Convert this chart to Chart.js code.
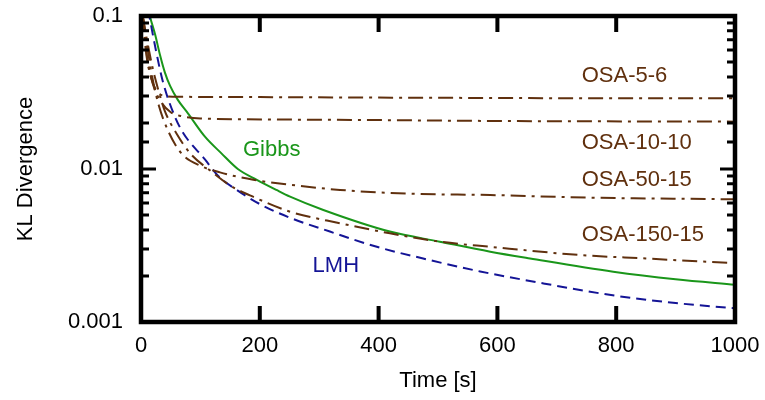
<!DOCTYPE html>
<html>
<head>
<meta charset="utf-8">
<script src="https://cdn.jsdelivr.net/npm/chart.js@4"></script>
<style>
  body { margin: 0; background: #fff; }
  canvas { display: block; }
</style>
</head>
<body>
<canvas id="klChart" width="765" height="400"></canvas>
<script>
// time [s] and KL divergence
const gibbsT = [10, 15, 24, 32, 40, 49, 62, 79, 108, 135, 163, 195, 228, 251, 307, 419, 503, 588, 655, 795, 900, 1000];
const gibbsV = [0.125, 0.1, 0.0751, 0.0556, 0.043, 0.0349, 0.0283, 0.0231, 0.0162, 0.0127, 0.0100, 0.0085, 0.0073, 0.0066, 0.0054, 0.0039, 0.00335, 0.00288, 0.0026, 0.00213, 0.0019, 0.00175];

const lmhT = [12, 25, 37, 57, 71, 108, 130, 161, 200, 251, 318, 397, 475, 571, 680, 801, 900, 1000];
const lmhV = [0.11, 0.06, 0.037, 0.022, 0.0172, 0.0115, 0.009, 0.0073, 0.0059, 0.0048, 0.0039, 0.0031, 0.0026, 0.00214, 0.00178, 0.00148, 0.00133, 0.00123];

const osa5T = [3, 8, 15, 25, 40, 55, 200, 500, 800, 1000];
const osa5V = [0.1, 0.06, 0.042, 0.033, 0.030, 0.0297, 0.0295, 0.0292, 0.029, 0.029];

const osa10T = [3, 10, 20, 35, 50, 67, 100, 300, 600, 1000];
const osa10V = [0.1, 0.055, 0.036, 0.027, 0.0235, 0.0222, 0.0214, 0.021, 0.0206, 0.0204];

const osa50T = [3, 10, 20, 30, 45, 67, 100, 133, 189, 250, 335, 450, 588, 750, 1000];
const osa50V = [0.1, 0.065, 0.038, 0.026, 0.018, 0.0128, 0.0105, 0.0095, 0.0085, 0.0079, 0.0073, 0.0069, 0.00676, 0.0065, 0.00634];

const osa150T = [3, 10, 20, 30, 40, 60, 84, 116, 150, 192, 251, 335, 419, 503, 588, 739, 850, 1000];
const osa150V = [0.1, 0.07, 0.045, 0.032, 0.024, 0.017, 0.0125, 0.0098, 0.0078, 0.0065, 0.00526, 0.00442, 0.0038, 0.00335, 0.0031, 0.00274, 0.0026, 0.00242];

const xTicks = [0, 200, 400, 600, 800, 1000];
const yLabels = [0.001, 0.01, 0.1];

const GREEN = 'rgb(26, 150, 26)';
const NAVY = 'rgb(20, 20, 150)';
const BROWN = 'rgb(96, 48, 14)';
const FONT = 'Liberation Sans, Arial, sans-serif';

function pts(t, v) {
  return t.map((x, i) => ({ x: x, y: v[i] }));
}

function line(label, t, v, color, dash) {
  return {
    label: label,
    data: pts(t, v),
    borderColor: color,
    borderWidth: 2,
    borderDash: dash,
    pointRadius: 0,
    cubicInterpolationMode: 'monotone',
    fill: false,
  };
}

const dashDot = [15, 6, 3, 6];

// text next to the curves (data coords of the label anchor)
const curveLabels = [
  { text: 'Gibbs', t: 220, v: 0.0133, color: GREEN, align: 'center' },
  { text: 'LMH', t: 328, v: 0.00231, color: NAVY, align: 'center' },
  { text: 'OSA-5-6', t: 742, v: 0.0403, color: BROWN, align: 'left' },
  { text: 'OSA-10-10', t: 742, v: 0.0149, color: BROWN, align: 'left' },
  { text: 'OSA-50-15', t: 742, v: 0.00847, color: BROWN, align: 'left' },
  { text: 'OSA-150-15', t: 742, v: 0.00371, color: BROWN, align: 'left' },
];

// frame with inward ticks on all four sides, plus curve labels
const framePlugin = {
  id: 'frame',
  afterDatasetsDraw(chart) {
    const { ctx, chartArea: a, scales } = chart;
    const xs = scales.x, ys = scales.y;
    ctx.save();
    ctx.strokeStyle = '#000';
    ctx.lineCap = 'butt';

    ys.ticks.forEach(tk => {
      const p = ys.getPixelForValue(tk.value);
      const lg = Math.log10(tk.value);
      const major = Math.abs(lg - Math.round(lg)) < 1e-6;
      const len = major ? 15 : 8;
      ctx.lineWidth = 3;
      ctx.beginPath();
      ctx.moveTo(a.left, p); ctx.lineTo(a.left + len, p);
      ctx.moveTo(a.right, p); ctx.lineTo(a.right - len, p);
      ctx.stroke();
    });

    xTicks.forEach(v => {
      const p = xs.getPixelForValue(v);
      ctx.lineWidth = 4;
      ctx.beginPath();
      ctx.moveTo(p, a.bottom); ctx.lineTo(p, a.bottom - 16);
      ctx.moveTo(p, a.top); ctx.lineTo(p, a.top + 16);
      ctx.stroke();
    });

    ctx.lineWidth = 4.5;
    ctx.strokeRect(a.left, a.top, a.right - a.left, a.bottom - a.top);

    ctx.font = '22px ' + FONT;
    ctx.textBaseline = 'middle';
    curveLabels.forEach(l => {
      ctx.fillStyle = l.color;
      ctx.textAlign = l.align;
      ctx.fillText(l.text, xs.getPixelForValue(l.t), ys.getPixelForValue(l.v));
    });
    ctx.restore();
  }
};

const ctx = document.getElementById('klChart').getContext('2d');
const klChart = new Chart(ctx, {
  type: 'line',
  data: {
    datasets: [
      line('OSA-5-6', osa5T, osa5V, BROWN, dashDot),
      line('OSA-10-10', osa10T, osa10V, BROWN, dashDot),
      line('OSA-50-15', osa50T, osa50V, BROWN, dashDot),
      line('OSA-150-15', osa150T, osa150V, BROWN, dashDot),
      line('LMH', lmhT, lmhV, NAVY, [10, 6]),
      line('Gibbs', gibbsT, gibbsV, GREEN, []),
    ],
  },
  options: {
    responsive: false,
    animation: false,
    layout: { padding: { top: 16, right: 30, left: 0, bottom: 0 } },
    plugins: {
      legend: { display: false },
      tooltip: { enabled: false },
    },
    scales: {
      x: {
        type: 'linear',
        min: 0,
        max: 1000,
        afterFit: s => { s.height = 78; s.paddingLeft = 0; s.paddingRight = 0; },
        afterBuildTicks: s => { s.ticks = xTicks.map(v => ({ value: v })); },
        grid: { display: false, drawTicks: false },
        border: { display: false },
        ticks: {
          color: '#000',
          padding: 11,
          maxRotation: 0,
          autoSkip: false,
          font: { family: FONT, size: 22 },
          callback: v => String(v),
        },
        title: {
          display: true,
          text: 'Time [s]',
          color: '#000',
          font: { family: FONT, size: 22 },
          padding: { top: 0, bottom: 6 },
        },
      },
      y: {
        type: 'logarithmic',
        min: 0.001,
        max: 0.1,
        afterFit: s => { s.width = 141; s.paddingTop = 0; s.paddingBottom = 0; },
        grid: { display: false, drawTicks: false },
        border: { display: false },
        ticks: {
          color: '#000',
          padding: 18,
          autoSkip: false,
          font: { family: FONT, size: 22 },
          callback: v => yLabels.find(l => Math.abs(l - v) < l * 1e-6) !== undefined ? String(v) : '',
        },
        title: {
          display: true,
          text: 'KL Divergence',
          color: '#000',
          font: { family: FONT, size: 22 },
          padding: { top: 13, bottom: 0 },
        },
      },
    },
  },
  plugins: [framePlugin],
});
</script>
</body>
</html>
